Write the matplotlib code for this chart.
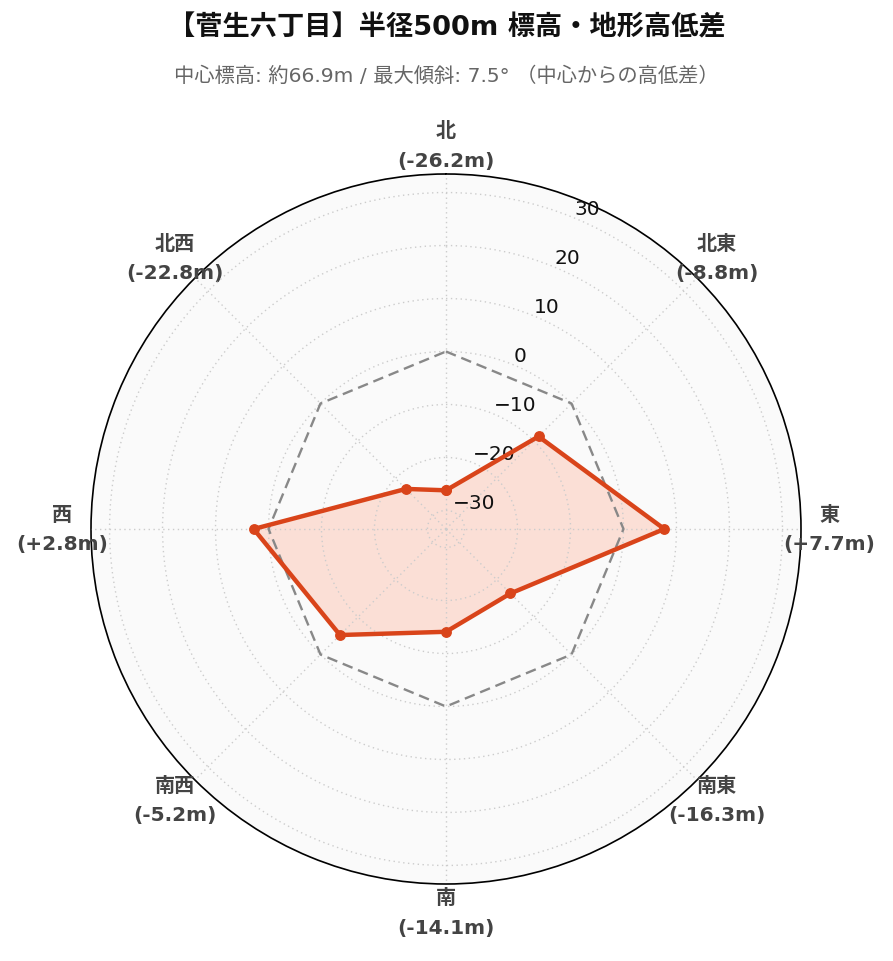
import numpy as np
import matplotlib
matplotlib.use("Agg")
import matplotlib.pyplot as plt

plt.rcParams['font.family'] = ['DejaVu Sans', 'Noto Sans CJK JP']

directions = ["北", "北東", "東", "南東", "南", "南西", "西", "北西"]
diffs = [-26.2, -8.8, 7.7, -16.3, -14.1, -5.2, 2.8, -22.8]
rticks = [-30, -20, -10, 0, 10, 20, 30]
r_limit = 33.5

title = "【菅生六丁目】半径500m 標高・地形高低差"
subtitle = "中心標高: 約66.9m / 最大傾斜: 7.5° （中心からの高低差）"

fig = plt.figure(figsize=(8.93, 9.62), dpi=100)
ax = fig.add_axes([91/893, 77/962, 710/893, 710/962], projection='polar')
ax.set_theta_zero_location('N')
ax.set_theta_direction(-1)
ax.set_facecolor('#fafafa')
ax.set_axisbelow(False)

theta = np.deg2rad(np.arange(len(directions)) * 45.0)
theta_c = np.append(theta, theta[0])
vals_c = np.append(diffs, diffs[0])
zero_c = np.zeros_like(theta_c)

ax.fill(theta_c, vals_c, color='#fcd6cb', alpha=0.75, zorder=1, lw=0)
ax.plot(theta_c, zero_c, color='#888888', lw=1.7, ls=(0, (4.5, 2.5)), zorder=3)
ax.plot(theta_c, vals_c, color='#d9441a', lw=3.2, marker='o', ms=6.8, zorder=4)

ax.set_ylim(-r_limit, r_limit)
ax.set_rorigin(-r_limit)
ax.set_yticks(rticks)
ax.set_yticklabels([str(t).replace('-', '\u2212') for t in rticks], fontsize=14.5,
                   color='#111111')
ax.set_rlabel_position(22.5)

ax.set_xticks(theta)
labels = [f"{d}\n({v:+.1f}m)" for d, v in zip(directions, diffs)]
ax.set_xticklabels(labels, fontsize=14.5, fontweight='bold', color='#444444',
                   linespacing=1.7)
ax.tick_params(axis='x', pad=10)

ax.grid(True, color='#cccccc', ls=(0, (1, 2.5)), lw=1.0)
ax.spines['polar'].set_color('black')
ax.spines['polar'].set_linewidth(1.2)

fig.text(0.5, 1 - 28/962, title, ha='center', va='center', fontsize=19.6,
         fontweight='bold', color='#111111')
fig.text(0.5, 1 - 76/962, subtitle, ha='center', va='center', fontsize=14.6,
         color='#666666')

fig.savefig('out.png', dpi=100, facecolor='white')
